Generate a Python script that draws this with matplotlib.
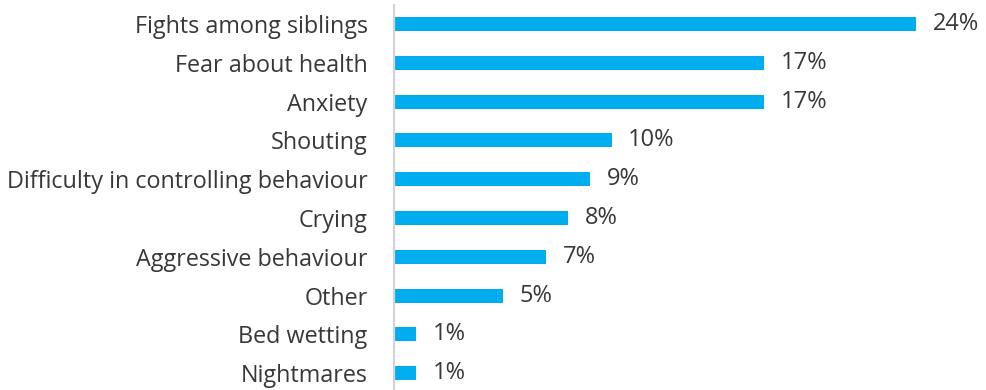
import matplotlib
matplotlib.use("Agg")
import matplotlib.pyplot as plt

categories = [
    "Fights among siblings",
    "Fear about health",
    "Anxiety",
    "Shouting",
    "Difficulty in controlling behaviour",
    "Crying",
    "Aggressive behaviour",
    "Other",
    "Bed wetting",
    "Nightmares",
]
values = [24, 17, 17, 10, 9, 8, 7, 5, 1, 1]
value_labels = ["24%", "17%", "17%", "10%", "9%", "8%", "7%", "5%", "1%", "1%"]

BAR_COLOR = "#00AEEF"
TEXT_COLOR = "#383838"
FONT = "Open Sans"

W, H = 986, 390
fig = plt.figure(figsize=(W / 100, H / 100), dpi=100)
ax = fig.add_axes([394 / W, 0, 592 / W, 1])

pos = list(range(len(categories)))
ax.barh(pos, values, height=0.36, color=BAR_COLOR, zorder=2)

ax.set_xlim(0, 592 / 21.75)
ax.set_ylim((H - 24) / 38.8, -24 / 38.8)

for y, v, lab in zip(pos, values, value_labels):
    ax.annotate(lab, xy=(v, y), xytext=(12, 0), textcoords="offset points",
                ha="left", va="center", fontsize=17, color=TEXT_COLOR,
                family=FONT)

ax.set_yticks(pos)
ax.set_yticklabels(categories, fontsize=16.8, color=TEXT_COLOR, family=FONT)
ax.tick_params(axis="y", length=0, pad=19)
ax.set_xticks([])

for s in ("top", "right", "bottom"):
    ax.spines[s].set_visible(False)
ax.spines["left"].set_color("#d4d4d4")
ax.spines["left"].set_linewidth(1.6)
ax.spines["left"].set_bounds((H - 24) / 38.8, -0.49)
ax.patch.set_visible(False)

fig.savefig("out.png", dpi=100)
